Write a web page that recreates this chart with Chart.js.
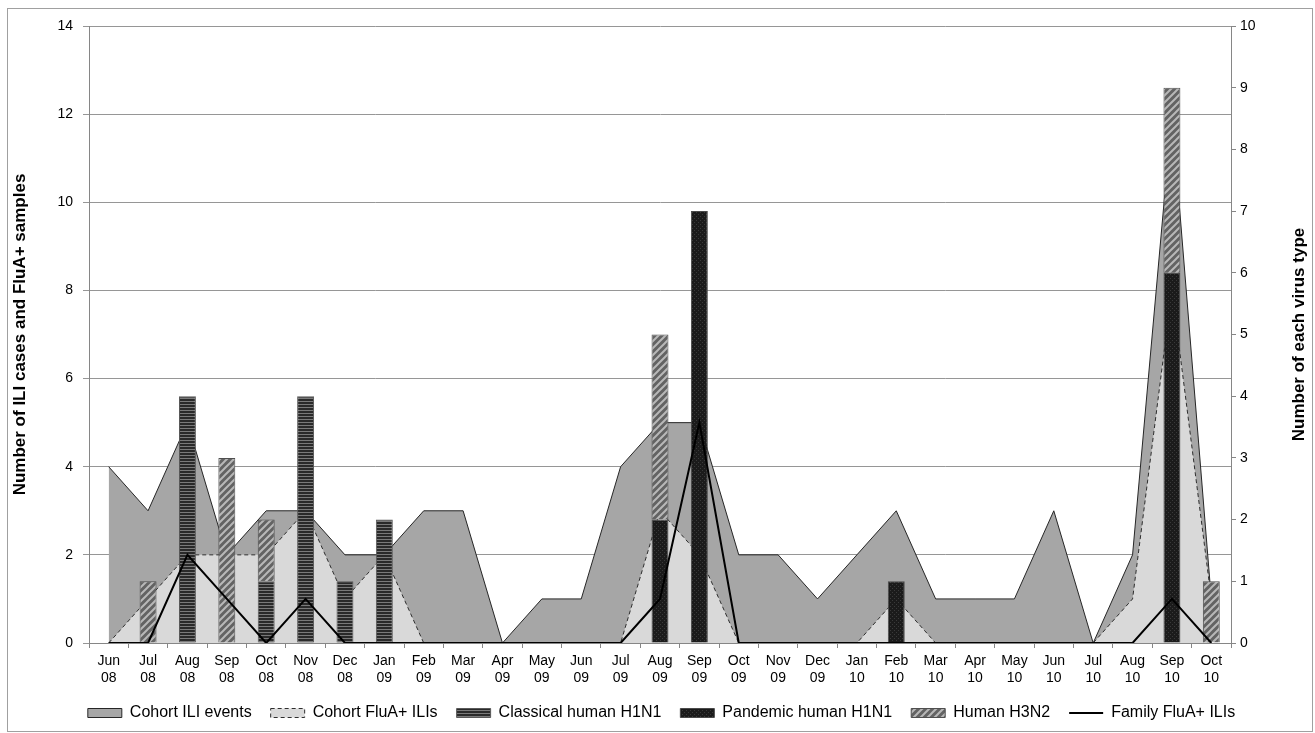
<!DOCTYPE html>
<html>
<head>
<meta charset="utf-8">
<title>ILI cases, FluA+ samples and virus types</title>
<script src="https://cdn.jsdelivr.net/npm/chart.js@4.4.1/dist/chart.umd.min.js"></script>
<style>
  html, body { margin: 0; padding: 0; background: #fff; }
  #wrap { width: 1315px; height: 733px; position: relative; }
</style>
</head>
<body>
<div id="wrap"><canvas id="ili-chart"></canvas></div>
<script>
// Months Jun 08 .. Oct 10
const months = ['Jun', 'Jul', 'Aug', 'Sep', 'Oct', 'Nov', 'Dec',
  'Jan', 'Feb', 'Mar', 'Apr', 'May', 'Jun', 'Jul', 'Aug', 'Sep', 'Oct', 'Nov', 'Dec',
  'Jan', 'Feb', 'Mar', 'Apr', 'May', 'Jun', 'Jul', 'Aug', 'Sep', 'Oct'];
const years = ['08', '08', '08', '08', '08', '08', '08',
  '09', '09', '09', '09', '09', '09', '09', '09', '09', '09', '09', '09',
  '10', '10', '10', '10', '10', '10', '10', '10', '10', '10'];

// left axis series
const iliEvents    = [4, 3, 5, 2, 3, 3, 2, 2, 3, 3, 0, 1, 1, 4, 5, 5, 2, 2, 1, 2, 3, 1, 1, 1, 3, 0, 2, 12, 1];
const fluAPositive = [0, 1, 2, 2, 2, 3, 1, 2, 0, 0, 0, 0, 0, 0, 3, 2, 0, 0, 0, 0, 1, 0, 0, 0, 0, 0, 1, 8, 1];
const familyFluA   = [0, 0, 2, 1, 0, 1, 0, 0, 0, 0, 0, 0, 0, 0, 1, 5, 0, 0, 0, 0, 0, 0, 0, 0, 0, 0, 0, 1, 0];

// right axis series (stacked bars), null = no bar
const classicalH1N1 = [null, null, 4, null, 1, 4, 1, 2, null, null, null, null, null, null, null, null, null, null, null, null, null, null, null, null, null, null, null, null, null];
const pandemicH1N1  = [null, null, null, null, null, null, null, null, null, null, null, null, null, null, 2, 7, null, null, null, null, 1, null, null, null, null, null, null, 6, null];
const humanH3N2     = [null, 1, null, 3, 1, null, null, null, null, null, null, null, null, null, 3, null, null, null, null, null, null, null, null, null, null, null, null, 3, 1];

// tick labels
const leftTicks  = [0, 2, 4, 6, 8, 10, 12, 14];
const rightTicks = [0, 1, 2, 3, 4, 5, 6, 7, 8, 9, 10];

const FONT = "'Liberation Sans', Arial, sans-serif";
Chart.defaults.font.family = FONT;
Chart.defaults.color = '#000';

function makePattern(size, draw) {
  const c = document.createElement('canvas');
  c.width = size;
  c.height = size;
  const g = c.getContext('2d');
  draw(g, size);
  return g.createPattern(c, 'repeat');
}

// horizontal stripes
const classicalFill = makePattern(3, (g, s) => {
  g.fillStyle = '#2a2a2a';
  g.fillRect(0, 0, s, s);
  g.fillStyle = '#7a7a7a';
  g.fillRect(0, 2, s, 1);
});

// fine dark texture
const pandemicFill = makePattern(4, (g, s) => {
  g.fillStyle = '#1b1b1b';
  g.fillRect(0, 0, s, s);
  g.fillStyle = '#3a3a3a';
  g.fillRect(0, 0, 1, 1);
  g.fillRect(2, 2, 1, 1);
});

// diagonal hatch
const h3n2Fill = makePattern(7, (g, s) => {
  g.fillStyle = '#636363';
  g.fillRect(0, 0, s, s);
  g.strokeStyle = '#b8b8b8';
  g.lineWidth = 2;
  g.beginPath();
  g.moveTo(0, s); g.lineTo(s, 0);
  g.moveTo(-1, 1); g.lineTo(1, -1);
  g.moveTo(s - 1, s + 1); g.lineTo(s + 1, s - 1);
  g.stroke();
});

// frame, white background and the right axis title
const extrasPlugin = {
  id: 'extras',
  beforeDraw(chart) {
    const ctx = chart.ctx;
    ctx.save();
    ctx.fillStyle = '#fff';
    ctx.fillRect(0, 0, chart.width, chart.height);
    ctx.restore();
  },
  afterDraw(chart) {
    const ctx = chart.ctx;
    const { top, bottom } = chart.chartArea;
    ctx.save();
    ctx.strokeStyle = '#a0a0a0';
    ctx.lineWidth = 1;
    ctx.strokeRect(7.5, 8.5, chart.width - 10, chart.height - 10);

    ctx.translate(1299, (top + bottom) / 2);
    ctx.rotate(-Math.PI / 2);
    ctx.font = 'bold 17px ' + FONT;
    ctx.fillStyle = '#000';
    ctx.textAlign = 'center';
    ctx.textBaseline = 'middle';
    ctx.fillText('Number of each virus type', 0, 0);
    ctx.restore();
  }
};

const labels = months.map((m, i) => [m, years[i]]);

new Chart(document.getElementById('ili-chart'), {
  type: 'bar',
  data: {
    labels: labels,
    datasets: [
      {
        type: 'line',
        label: 'Cohort ILI events',
        data: iliEvents,
        yAxisID: 'y',
        fill: 'origin',
        backgroundColor: '#a6a6a6',
        borderColor: '#262626',
        borderWidth: 1,
        tension: 0,
        pointRadius: 0,
        order: 4
      },
      {
        type: 'line',
        label: 'Cohort FluA+ ILIs',
        data: fluAPositive,
        yAxisID: 'y',
        fill: 'origin',
        backgroundColor: '#d9d9d9',
        borderColor: '#2e2e2e',
        borderWidth: 1,
        borderDash: [4, 3],
        tension: 0,
        pointRadius: 0,
        order: 3
      },
      {
        label: 'Classical human H1N1',
        data: classicalH1N1,
        yAxisID: 'y1',
        stack: 'virus',
        backgroundColor: classicalFill,
        borderColor: '#5a5a5a',
        borderWidth: 1,
        categoryPercentage: 0.43,
        barPercentage: 1,
        order: 2
      },
      {
        label: 'Pandemic human H1N1',
        data: pandemicH1N1,
        yAxisID: 'y1',
        stack: 'virus',
        backgroundColor: pandemicFill,
        borderColor: '#4a4a4a',
        borderWidth: 1,
        categoryPercentage: 0.43,
        barPercentage: 1,
        order: 2
      },
      {
        label: 'Human H3N2',
        data: humanH3N2,
        yAxisID: 'y1',
        stack: 'virus',
        backgroundColor: h3n2Fill,
        borderColor: '#4f4f4f',
        borderWidth: 1,
        categoryPercentage: 0.43,
        barPercentage: 1,
        order: 2
      },
      {
        type: 'line',
        label: 'Family FluA+ ILIs',
        data: familyFluA,
        yAxisID: 'y',
        fill: false,
        borderColor: '#000',
        backgroundColor: '#000',
        borderWidth: 2,
        tension: 0,
        pointRadius: 0,
        order: 0
      }
    ]
  },
  options: {
    responsive: true,
    maintainAspectRatio: false,
    animation: false,
    layout: {
      padding: { left: 8, right: 0, top: 26, bottom: 2 }
    },
    plugins: {
      tooltip: { enabled: false },
      legend: {
        position: 'bottom',
        labels: {
          usePointStyle: true,
          pointStyleWidth: 34,
          boxHeight: 9,
          padding: 19,
          color: '#000',
          font: { size: 16 },
          generateLabels(chart) {
            return chart.data.datasets.map((ds, i) => ({
              text: ds.label,
              datasetIndex: i,
              fillStyle: ds.backgroundColor,
              strokeStyle: ds.borderColor,
              lineWidth: ds.borderWidth,
              lineDash: ds.borderDash || [],
              pointStyle: ds.type === 'line' && !ds.fill ? 'line' : 'rect',
              fontColor: '#000',
              hidden: false
            }));
          }
        }
      }
    },
    scales: {
      x: {
        offset: true,
        grid: {
          offset: true,
          drawOnChartArea: false,
          drawTicks: true,
          tickLength: 5,
          color: '#868686'
        },
        border: { color: '#868686' },
        ticks: {
          autoSkip: false,
          maxRotation: 0,
          padding: 4,
          font: { size: 14, lineHeight: 1.25 },
          color: '#000'
        },
        afterFit(scale) { scale.height = 43; }
      },
      y: {
        position: 'left',
        min: leftTicks[0],
        max: leftTicks[leftTicks.length - 1],
        ticks: {
          stepSize: leftTicks[1] - leftTicks[0],
          padding: 10,
          font: { size: 14 },
          color: '#000'
        },
        grid: { color: '#969696', tickLength: 6 },
        border: { color: '#868686' },
        title: {
          display: true,
          text: 'Number of ILI cases and FluA+ samples',
          font: { size: 17, weight: 'bold' },
          color: '#000',
          padding: { top: 2, bottom: 0 }
        },
        afterFit(scale) { scale.width = 81; }
      },
      y1: {
        position: 'right',
        stacked: true,
        min: rightTicks[0],
        max: rightTicks[rightTicks.length - 1],
        ticks: {
          stepSize: rightTicks[1] - rightTicks[0],
          padding: 4,
          font: { size: 14 },
          color: '#000'
        },
        grid: { drawOnChartArea: false, tickLength: 5, color: '#868686' },
        border: { color: '#868686' },
        afterFit(scale) { scale.width = 84; }
      }
    }
  },
  plugins: [extrasPlugin]
});
</script>
</body>
</html>
